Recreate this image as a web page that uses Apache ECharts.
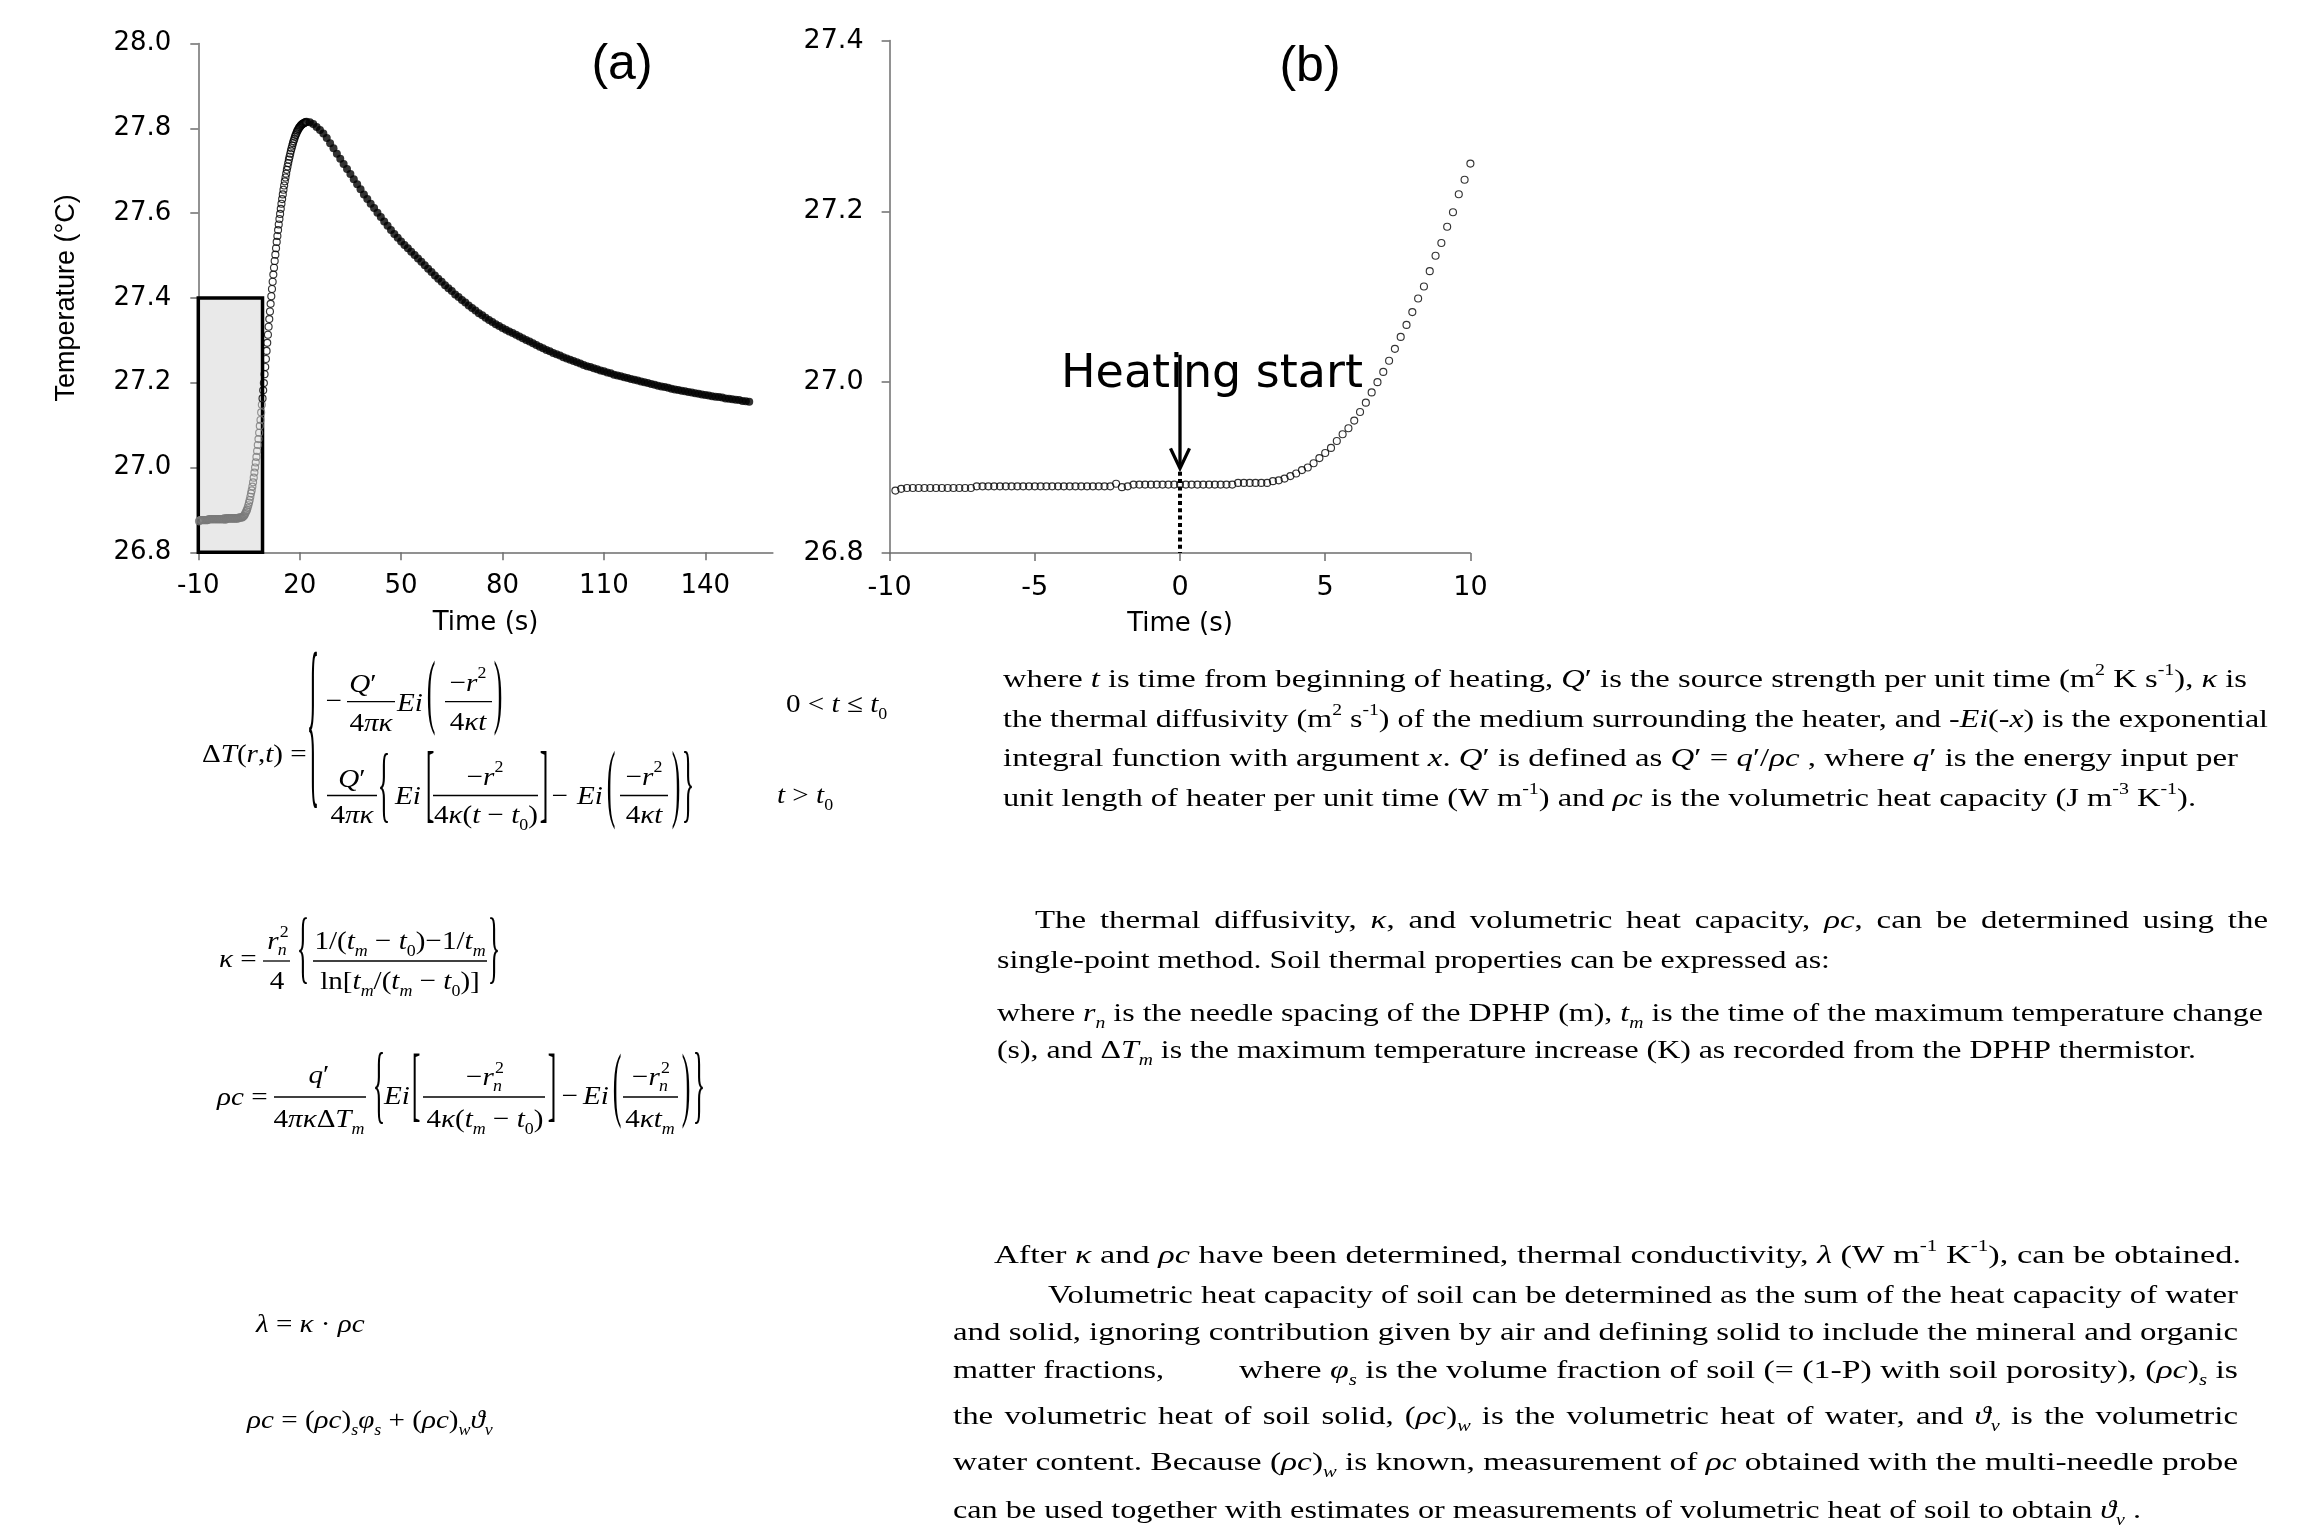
<!DOCTYPE html>
<html><head><meta charset="utf-8">
<script src="https://cdn.jsdelivr.net/npm/echarts@6.0.0/dist/echarts.min.js"></script>
<style>html,body{margin:0;padding:0;background:#fff}#c{width:2321px;height:1533px}</style>
</head><body><div id="c"></div><script>
// ---------------- DATA ----------------
// panel (b) / start of panel (a): temperature every 0.2 s from -9.8 s to 10.0 s
const B_START = -9.8, B_STEP = 0.2;
const bTemp = [26.873,
 26.875,26.876,26.876,26.876,26.876,26.876,26.876,26.876,26.876,26.876,26.876,26.876,26.876,
 26.878,26.878,26.878,26.878,26.878,26.878,26.878,26.878,26.878,26.878,26.878,26.878,
 26.878,26.878,26.878,26.878,26.878,26.878,26.878,26.878,26.878,26.878,26.878,26.878,
 26.881,26.877,26.878,
 26.880,26.880,26.880,26.880,26.880,26.880,26.880,26.880,26.880,26.880,26.880,26.880,26.880,26.880,26.880,26.880,26.880,26.880,
 26.882,26.882,26.882,26.882,26.882,26.882,
 26.884,26.885,26.887,26.890,26.893,26.897,26.900,26.905,26.911,26.917,
 26.923,26.931,26.939,26.946,26.955,26.965,26.976,26.988,27.000,27.012,
 27.025,27.039,27.053,27.067,27.082,27.098,27.112,27.130,27.148,27.163,
 27.182,27.199,27.220,27.237,27.256];
// panel (a) rise: every 0.2 s from 10.2 s to 22.0 s
const R_START = 10.2, R_STEP = 0.2;
const aRiseTemp = [27.275,27.294,27.313,27.332,27.350,27.368,27.386,27.404,27.421,27.438,
 27.455,27.471,27.487,27.502,27.517,27.532,27.546,27.560,27.573,27.586,
 27.598,27.610,27.622,27.633,27.644,27.655,27.665,27.675,27.684,27.693,
 27.702,27.710,27.718,27.726,27.733,27.740,27.747,27.753,27.759,27.765,
 27.770,27.775,27.780,27.784,27.788,27.792,27.795,27.798,27.801,27.803,
 27.805,27.807,27.809,27.810,27.811,27.812,27.813,27.814,27.814,27.815];
// panel (a) decay: every 1 s from 23 s to 153 s
const D_START = 23, D_STEP = 1;
const aDecayTemp = [27.814,27.810,27.803,27.796,27.788,27.777,27.765,27.753,27.740,27.728,
 27.716,27.704,27.692,27.680,27.668,27.656,27.644,27.633,27.622,27.612,
 27.601,27.591,27.580,27.570,27.560,27.551,27.542,27.533,27.525,27.517,
 27.509,27.501,27.493,27.485,27.477,27.469,27.461,27.453,27.445,27.438,
 27.430,27.423,27.416,27.408,27.402,27.395,27.389,27.382,27.376,27.370,
 27.364,27.359,27.353,27.348,27.343,27.338,27.334,27.329,27.325,27.321,
 27.317,27.313,27.309,27.305,27.301,27.297,27.293,27.289,27.285,27.281,
 27.277,27.274,27.270,27.267,27.264,27.260,27.257,27.254,27.251,27.248,
 27.245,27.242,27.239,27.237,27.234,27.232,27.229,27.227,27.224,27.222,
 27.219,27.217,27.215,27.213,27.211,27.209,27.207,27.205,27.203,27.201,
 27.199,27.197,27.195,27.193,27.191,27.190,27.188,27.186,27.184,27.183,
 27.181,27.180,27.178,27.177,27.175,27.174,27.172,27.171,27.170,27.168,
 27.167,27.166,27.165,27.163,27.162,27.161,27.160,27.159,27.157,27.156,
 27.155];
const A_XTICKS = [-10, 20, 50, 80, 110, 140];
const A_YTICKS = [26.8, 27.0, 27.2, 27.4, 27.6, 27.8, 28.0];
const B_XTICKS = [-10, -5, 0, 5, 10];
const B_YTICKS = [26.8, 27.0, 27.2, 27.4];
const BOX_X = [-10, 9], BOX_Y = [26.8, 27.4];
const GRAY_LIMIT = 9;       // points inside the shaded box
const ARROW_TOP = 27.032, ARROW_TIP = 26.899, DOT_TOP = 26.895;

// ---------------- build points ----------------
const bPts = bTemp.map((v, i) => [+(B_START + i * B_STEP).toFixed(1), v]);
const aGray = bPts.filter(p => p[0] < GRAY_LIMIT);
const aHollow = bPts.filter(p => p[0] >= GRAY_LIMIT)
  .concat(aRiseTemp.map((v, i) => [+(R_START + i * R_STEP).toFixed(1), v]));
const aDecay = aDecayTemp.map((v, i) => [D_START + i * D_STEP, v]);

// ---------------- fonts / styles ----------------
const SANS = '"DejaVu Sans", sans-serif';
const ARIAL = '"Liberation Sans", Arial, sans-serif';
const SERIF = '"Liberation Serif", "Times New Roman", serif';
const AX = '#6e6e6e';

const chart = echarts.init(document.getElementById('c'), null, {renderer: 'canvas'});
const hollow = c => ({color: 'rgba(0,0,0,0)', borderColor: c, borderWidth: 1.15});
const fmt1 = v => (+v).toFixed(1);

chart.setOption({
  animation: false,
  backgroundColor: '#fff',
  grid: [
    {left: 198.3, top: 43.5, width: 574.6, height: 508.8, outerBoundsMode: 'none'},
    {left: 889.6, top: 40.6, width: 580.8, height: 512.3, outerBoundsMode: 'none'}
  ],
  xAxis: [
    {gridIndex: 0, type: 'value', min: -10, max: 160, interval: 30,
     axisLine: {onZero: false, lineStyle: {color: AX, width: 1.5}},
     axisTick: {length: 8, lineStyle: {color: AX, width: 1.5}, customValues: A_XTICKS},
     axisLabel: {customValues: A_XTICKS, fontFamily: SANS, fontSize: 26, color: '#000', margin: 21},
     splitLine: {show: false},
     name: 'Time (s)', nameLocation: 'middle', nameGap: 58,
     nameTextStyle: {fontFamily: SANS, fontSize: 26, color: '#000'}},
    {gridIndex: 1, type: 'value', min: -10, max: 10, interval: 5,
     axisLine: {onZero: false, lineStyle: {color: AX, width: 1.5}},
     axisTick: {length: 8, lineStyle: {color: AX, width: 1.5}, customValues: B_XTICKS},
     axisLabel: {customValues: B_XTICKS, fontFamily: SANS, fontSize: 27, color: '#000', margin: 22},
     splitLine: {show: false},
     name: 'Time (s)', nameLocation: 'middle', nameGap: 58,
     nameTextStyle: {fontFamily: SANS, fontSize: 26, color: '#000'}}
  ],
  yAxis: [
    {gridIndex: 0, type: 'value', min: 26.8, max: 28.0, interval: 0.2,
     axisLine: {onZero: false, lineStyle: {color: AX, width: 1.5}},
     axisTick: {length: 8, lineStyle: {color: AX, width: 1.5}, customValues: A_YTICKS},
     axisLabel: {customValues: A_YTICKS, formatter: fmt1, fontFamily: SANS, fontSize: 26, color: '#000', margin: 27},
     splitLine: {show: false},
     name: 'Temperature (°C)', nameLocation: 'middle', nameGap: 118, nameRotate: 90,
     nameTextStyle: {fontFamily: ARIAL, fontSize: 27, color: '#000'}},
    {gridIndex: 1, type: 'value', min: 26.8, max: 27.4, interval: 0.2,
     axisLine: {onZero: false, lineStyle: {color: AX, width: 1.5}},
     axisTick: {length: 8, lineStyle: {color: AX, width: 1.5}, customValues: B_YTICKS},
     axisLabel: {customValues: B_YTICKS, formatter: fmt1, fontFamily: SANS, fontSize: 27, color: '#000', margin: 26},
     splitLine: {show: false}}
  ],
  series: [
    {type: 'scatter', xAxisIndex: 0, yAxisIndex: 0, data: [], z: 1, silent: true,
     markArea: {silent: true, label: {show: false},
       itemStyle: {color: '#e9e9e9', borderColor: '#000', borderWidth: 3.5},
       data: [[{coord: [BOX_X[0], BOX_Y[0]]}, {coord: [BOX_X[1], BOX_Y[1]]}]]}},
    {type: 'scatter', xAxisIndex: 0, yAxisIndex: 0, data: aGray, z: 3, silent: true,
     symbol: 'circle', symbolSize: 7, itemStyle: hollow('#7b7b7b')},
    {type: 'scatter', xAxisIndex: 0, yAxisIndex: 0, data: aHollow, z: 3, silent: true,
     symbol: 'circle', symbolSize: 7, itemStyle: hollow('#000')},
    {type: 'scatter', xAxisIndex: 0, yAxisIndex: 0, data: aDecay, z: 3, silent: true,
     symbol: 'circle', symbolSize: 8, itemStyle: {color: '#000'}},
    {type: 'scatter', xAxisIndex: 1, yAxisIndex: 1, data: bPts, z: 3, silent: true,
     symbol: 'circle', symbolSize: 7, itemStyle: hollow('#000')}
  ]
});

// ---------------- text helpers ----------------
const ctx = document.createElement('canvas').getContext('2d');
function segs(str) {
  const out = []; const re = /\{(\w+)\|([^}]*)\}/g; let m, last = 0;
  while ((m = re.exec(str))) {
    if (m.index > last) out.push({k: null, t: str.slice(last, m.index)});
    out.push({k: m[1], t: m[2]}); last = re.lastIndex;
  }
  if (last < str.length) out.push({k: null, t: str.slice(last)});
  return out;
}
function fontStr(st) { return (st.fontStyle || 'normal') + ' normal ' + st.fontSize + 'px ' + st.fontFamily; }
function measure(str, base, rich) {
  let w = 0;
  for (const sg of segs(str)) { ctx.font = fontStr(sg.k ? rich[sg.k] : base); w += ctx.measureText(sg.t).width; }
  return w;
}

// body text
const BS = 26;
const bodyBase = {fontFamily: SERIF, fontSize: BS, fontStyle: 'normal'};
const bodyRich = {
  i: {fontFamily: SERIF, fontSize: BS, fontStyle: 'italic', lineHeight: 35},
  p: {fontFamily: SERIF, fontSize: 16, lineHeight: 21, verticalAlign: 'top'},
  s: {fontFamily: SERIF, fontSize: 16, lineHeight: 16, verticalAlign: 'bottom'},
  si: {fontFamily: SERIF, fontSize: 16, fontStyle: 'italic', lineHeight: 16, verticalAlign: 'bottom'}
};
function bodyEl(x, y, str, sx) {
  return {type: 'text', x: x, y: y, scaleX: sx, silent: true, z: 10,
    style: {text: str, fill: '#000', fontFamily: SERIF, fontSize: BS, fontStyle: 'normal',
      align: 'left', verticalAlign: 'middle', lineHeight: 35, rich: bodyRich}};
}
const bodyLines = [
 {x: 1003, r: 2247, y: 680, j: 1, s: 'where {i|t} is time from beginning of heating, {i|Q}′ is the source strength per unit time (m{p|2} K s{p|-1}), {i|κ} is'},
 {x: 1003, r: 2268, y: 720, j: 1, s: 'the thermal diffusivity (m{p|2} s{p|-1}) of the medium surrounding the heater, and -{i|Ei}(-{i|x}) is the exponential'},
 {x: 1003, r: 2238, y: 759, j: 1, s: 'integral function with argument {i|x}. {i|Q}′ is defined as {i|Q}′ = {i|q}′/{i|ρc} , where {i|q}′ is the energy input per'},
 {x: 1003, r: 2196, y: 799, j: 0, s: 'unit length of heater per unit time (W m{p|-1}) and {i|ρc} is the volumetric heat capacity (J m{p|-3} K{p|-1}).'},
 {x: 1035, r: 2268, y: 921, j: 1, s: 'The thermal diffusivity, {i|κ}, and volumetric heat capacity, {i|ρc}, can be determined using the'},
 {x: 997, r: 1830, y: 961, j: 0, s: 'single-point method. Soil thermal properties can be expressed as:'},
 {x: 997, r: 2263, y: 1014, j: 1, s: 'where {i|r}{si|n} is the needle spacing of the DPHP (m), {i|t}{si|m} is the time of the maximum temperature change'},
 {x: 997, r: 2196, y: 1051, j: 0, s: '(s), and Δ{i|T}{si|m} is the maximum temperature increase (K) as recorded from the DPHP thermistor.'},
 {x: 994, r: 2241, y: 1256, j: 0, s: 'After {i|κ} and {i|ρc} have been determined, thermal conductivity, {i|λ} (W m{p|-1} K{p|-1}), can be obtained.'},
 {x: 1048, r: 2238, y: 1296, j: 1, s: 'Volumetric heat capacity of soil can be determined as the sum of the heat capacity of water'},
 {x: 953, r: 2238, y: 1333, j: 1, s: 'and solid, ignoring contribution given by air and defining solid to include the mineral and organic'},
 {x: 953, r: 1164, y: 1371, j: 0, s: 'matter fractions,'},
 {x: 1239, r: 2238, y: 1371, j: 1, s: 'where {i|φ}{si|s} is the volume fraction of soil (= (1-P) with soil porosity), ({i|ρc}){si|s} is'},
 {x: 953, r: 2238, y: 1417, j: 1, s: 'the volumetric heat of soil solid, ({i|ρc}){si|w} is the volumetric heat of water, and {i|ϑ}{si|v} is the volumetric'},
 {x: 953, r: 2238, y: 1463, j: 1, s: 'water content. Because ({i|ρc}){si|w} is known, measurement of {i|ρc} obtained with the multi-needle probe'},
 {x: 953, r: 2141, y: 1511, j: 0, s: 'can be used together with estimates or measurements of volumetric heat of soil to obtain {i|ϑ}{si|v} .'}
];
// common horizontal stretch of the body text, taken from the unjustified closing lines
const refLines = [bodyLines[3], bodyLines[7], bodyLines[8]];
const SXBASE = refLines.reduce((a, L) => a + (L.r - L.x) / measure(L.s, bodyBase, bodyRich), 0) / refLines.length;
function layoutLine(L) {
  const nat = measure(L.s, bodyBase, bodyRich);
  if (L.r == null) return [bodyEl(L.x, L.y, L.s, SXBASE)];
  const target = L.r - L.x;
  const sx = target / nat;
  if (!L.j || sx <= SXBASE * 1.04) return [bodyEl(L.x, L.y, L.s, sx)];
  const words = L.s.split(' ');
  const ws = words.map(w => measure(w, bodyBase, bodyRich) * SXBASE);
  const tot = ws.reduce((a, b) => a + b, 0);
  const gap = (target - tot) / (words.length - 1);
  const out = []; let x = L.x;
  words.forEach((w, i) => { out.push(bodyEl(x, L.y, w, SXBASE)); x += ws[i] + gap; });
  return out;
}

// equations
const ES = 26, ESX = 1.12;
const eqBase = {fontFamily: SERIF, fontSize: ES, fontStyle: 'normal'};
const eqRich = {
  i: {fontFamily: SERIF, fontSize: ES, fontStyle: 'italic', lineHeight: 36},
  p: {fontFamily: SERIF, fontSize: 16, lineHeight: 21, verticalAlign: 'top'},
  s: {fontFamily: SERIF, fontSize: 16, lineHeight: 16, verticalAlign: 'bottom'},
  si: {fontFamily: SERIF, fontSize: 16, fontStyle: 'italic', lineHeight: 16, verticalAlign: 'bottom'}
};
function eT(x, y, str, align) {
  return {type: 'text', x: x, y: y, scaleX: ESX, silent: true, z: 10,
    style: {text: str, fill: '#000', fontFamily: SERIF, fontSize: ES, fontStyle: 'normal',
      align: align || 'center', verticalAlign: 'middle', lineHeight: 36, rich: eqRich}};
}
function bar(x1, x2, y) {
  return {type: 'line', silent: true, z: 10, shape: {x1: x1, y1: y, x2: x2, y2: y}, style: {stroke: '#000', lineWidth: 1.3}};
}
function big(ch, x, y, h) {
  const k = h / (0.92 * ES);
  return {type: 'text', x: x, y: y - 2.5 * k, scaleY: k, scaleX: 1, silent: true, z: 10,
    style: {text: ch, fill: '#000', fontFamily: SERIF, fontSize: ES, align: 'center', verticalAlign: 'middle'}};
}
function small(x, y, t, it) {
  return {type: 'text', x: x, y: y, scaleX: ESX, silent: true, z: 10,
    style: {text: t, fill: '#000', fontFamily: SERIF, fontSize: 16, fontStyle: it ? 'italic' : 'normal', align: 'left', verticalAlign: 'middle'}};
}
function rn(xc, y, pre) {
  const s = pre + '{i|r}';
  const w = measure(s, eqBase, eqRich) * ESX;
  const xl = xc - (w + 8) / 2;
  return [eT(xl, y, s, 'left'), small(xl + w + 1, y - 9, '2', false), small(xl + w - 1, y + 9, 'n', true)];
}

const eqEls = [].concat(
  // ΔT(r,t)
  [eT(202, 755, 'Δ{i|T}({i|r},{i|t}) =', 'left'), big('{', 313, 752, 173),
   eT(334, 702, '−'), eT(363, 685, '{i|Q}′'), bar(347, 395, 701.7), eT(371, 724, '4{i|πκ}'),
   eT(410, 704, '{i|Ei}'), big('(', 431, 704, 75),
   eT(468, 684, '−{i|r}{p|2}'), bar(445, 492, 701.7), eT(468, 723, '4{i|κt}'), big(')', 498, 704, 75),
   eT(786, 705, '0 < {i|t} ≤ {i|t}{s|0}', 'left'),
   eT(352, 780, '{i|Q}′'), bar(327, 377, 795.5), eT(352, 816, '4{i|πκ}'),
   big('{', 384, 798, 77), eT(408, 797, '{i|Ei}'), big('[', 430, 797, 79),
   eT(485, 778, '−{i|r}{p|2}'), bar(433, 538, 795.5), eT(486, 816, '4{i|κ}({i|t} − {i|t}{s|0})'),
   big(']', 544, 797, 79), eT(560, 797, '−'), eT(590, 797, '{i|Ei}'), big('(', 611, 797, 79),
   eT(644, 778, '−{i|r}{p|2}'), bar(620, 668, 795.5), eT(644, 816, '4{i|κt}'),
   big(')', 676, 797, 79), big('}', 688, 797, 79),
   eT(777, 796, '{i|t} > {i|t}{s|0}', 'left')],
  // kappa
  [eT(219, 960, '{i|κ} =', 'left')], rn(277, 942, ''),
  [bar(263, 290, 961), eT(277, 982, '4'), big('{', 303, 960, 73),
   eT(400, 942, '1/({i|t}{si|m} − {i|t}{s|0})−1/{i|t}{si|m}'), bar(313, 487, 961),
   eT(400, 982, 'ln[{i|t}{si|m}/({i|t}{si|m} − {i|t}{s|0})]'), big('}', 494, 960, 73)],
  // rho c
  [eT(217, 1098, '{i|ρc} =', 'left'), eT(319, 1076, '{i|q}′'), bar(274, 366, 1097),
   eT(319, 1120, '4{i|πκ}Δ{i|T}{si|m}'), big('{', 379, 1098, 80), eT(397, 1097, '{i|Ei}'),
   big('[', 416, 1097, 76)], rn(484, 1078, '−'),
  [bar(423, 545, 1097), eT(485, 1120, '4{i|κ}({i|t}{si|m} − {i|t}{s|0})'), big(']', 552, 1097, 76),
   eT(570, 1097, '−'), eT(596, 1097, '{i|Ei}'), big('(', 617, 1097, 76)], rn(650, 1078, '−'),
  [bar(623, 678, 1097), eT(650, 1120, '4{i|κt}{si|m}'), big(')', 686, 1097, 76), big('}', 699, 1098, 80)],
  // lambda & rho c sum
  [eT(256, 1325, '{i|λ} = {i|κ} · {i|ρc}', 'left'),
   eT(247, 1421, '{i|ρc} = ({i|ρc}){si|s}{i|φ}{si|s} + ({i|ρc}){si|w}{i|ϑ}{si|v}', 'left')]
);

// chart annotations
const px0 = chart.convertToPixel({gridIndex: 1}, [0, 26.8]);
const pTop = chart.convertToPixel({gridIndex: 1}, [0, ARROW_TOP]);
const pTip = chart.convertToPixel({gridIndex: 1}, [0, ARROW_TIP]);
const pDot = chart.convertToPixel({gridIndex: 1}, [0, DOT_TOP]);
const ax = pTip[0];
const annot = [
  {type: 'text', x: 622, y: 65, silent: true, z: 10,
   style: {text: '(a)', fill: '#000', fontFamily: ARIAL, fontSize: 50, align: 'center', verticalAlign: 'middle'}},
  {type: 'text', x: 1310, y: 67, silent: true, z: 10,
   style: {text: '(b)', fill: '#000', fontFamily: ARIAL, fontSize: 50, align: 'center', verticalAlign: 'middle'}},
  {type: 'text', x: 1212, y: 375, silent: true, z: 10,
   style: {text: 'Heating start', fill: '#000', fontFamily: SANS, fontSize: 46, align: 'center', verticalAlign: 'middle'}},
  {type: 'line', silent: true, z: 20, shape: {x1: ax, y1: pTop[1], x2: ax, y2: pTip[1] - 2}, style: {stroke: '#000', lineWidth: 3.3}},
  {type: 'polyline', silent: true, z: 20, shape: {points: [[ax - 9.5, pTip[1] - 20], [ax, pTip[1]], [ax + 9.5, pTip[1] - 20]]},
   style: {stroke: '#000', lineWidth: 3.3, fill: null}},
  {type: 'line', silent: true, z: 20, shape: {x1: ax, y1: pDot[1], x2: ax, y2: px0[1]},
   style: {stroke: '#000', lineWidth: 4, lineDash: [4, 3.3]}}
];

let bodyEls = [];
bodyLines.forEach(L => { bodyEls = bodyEls.concat(layoutLine(L)); });

chart.setOption({graphic: {elements: annot.concat(eqEls, bodyEls)}});
</script></body></html>
